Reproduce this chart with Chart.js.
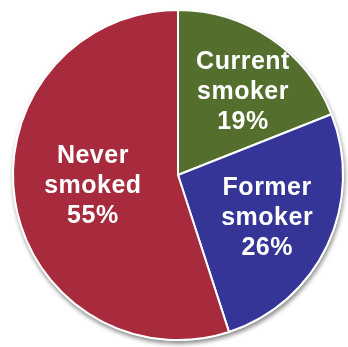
<!DOCTYPE html>
<html>
<head>
<meta charset="utf-8">
<script src="https://cdn.jsdelivr.net/npm/chart.js@4/dist/chart.umd.min.js"></script>
<style>
    html, body { margin: 0; padding: 0; background: #ffffff; }
    #wrap { width: 348px; height: 347px; }
</style>
</head>
<body>
<div id="wrap"><canvas id="smokingGraph"></canvas></div>
<script>
const categories = [['Current', 'smoker'], ['Former', 'smoker'], ['Never', 'smoked']];
const percentages = [19, 26, 55];
const sliceColors = ['#546E2E', '#343597', '#A72B3D'];
const labelRadius = [0.64, 0.60, 0.52];
const labelTurn = [0.066, 0.01, 0.03];

// soft grey shadow under the whole pie
const pieShadow = {
    id: 'pieShadow',
    beforeDatasetsDraw(chart) {
        const arc = chart.getDatasetMeta(0).data[0];
        if (!arc) return;
        const ctx = chart.ctx;
        ctx.save();
        ctx.shadowColor = 'rgba(0,0,0,0.45)';
        ctx.shadowBlur = 4;
        ctx.shadowOffsetX = 1;
        ctx.shadowOffsetY = 3;
        ctx.fillStyle = '#ffffff';
        ctx.beginPath();
        ctx.arc(arc.x, arc.y, arc.outerRadius + 1, 0, Math.PI * 2);
        ctx.fill();
        ctx.restore();
    }
};

// white multi-line labels inside each slice
const sliceLabels = {
    id: 'sliceLabels',
    afterDatasetsDraw(chart) {
        const ctx = chart.ctx;
        const meta = chart.getDatasetMeta(0);
        ctx.save();
        ctx.fillStyle = '#ffffff';
        ctx.font = 'bold 25px "Liberation Sans", Arial, sans-serif';
        ctx.letterSpacing = '0.5px';
        ctx.textAlign = 'center';
        ctx.textBaseline = 'middle';
        meta.data.forEach(function (arc, i) {
            const mid = (arc.startAngle + arc.endAngle) / 2 + labelTurn[i];
            const r = arc.outerRadius * labelRadius[i];
            const cx = arc.x + Math.cos(mid) * r;
            const cy = arc.y + Math.sin(mid) * r;
            const lines = categories[i].concat([percentages[i] + '%']);
            const lh = 30;
            lines.forEach(function (line, j) {
                ctx.fillText(line, cx, cy + (j - (lines.length - 1) / 2) * lh);
            });
        });
        ctx.restore();
    }
};

new Chart(document.getElementById('smokingGraph'), {
    type: 'pie',
    data: {
        labels: categories.map(c => c.join(' ')),
        datasets: [
            {
                data: percentages,
                backgroundColor: sliceColors,
                borderColor: '#ffffff',
                borderWidth: 2
            }
        ]
    },
    options: {
        responsive: true,
        maintainAspectRatio: false,
        animation: false,
        layout: {
            padding: { top: 9, bottom: 6, left: 12, right: 4 }
        },
        plugins: {
            legend: { display: false },
            tooltip: { enabled: false }
        }
    },
    plugins: [pieShadow, sliceLabels]
});
</script>
</body>
</html>
